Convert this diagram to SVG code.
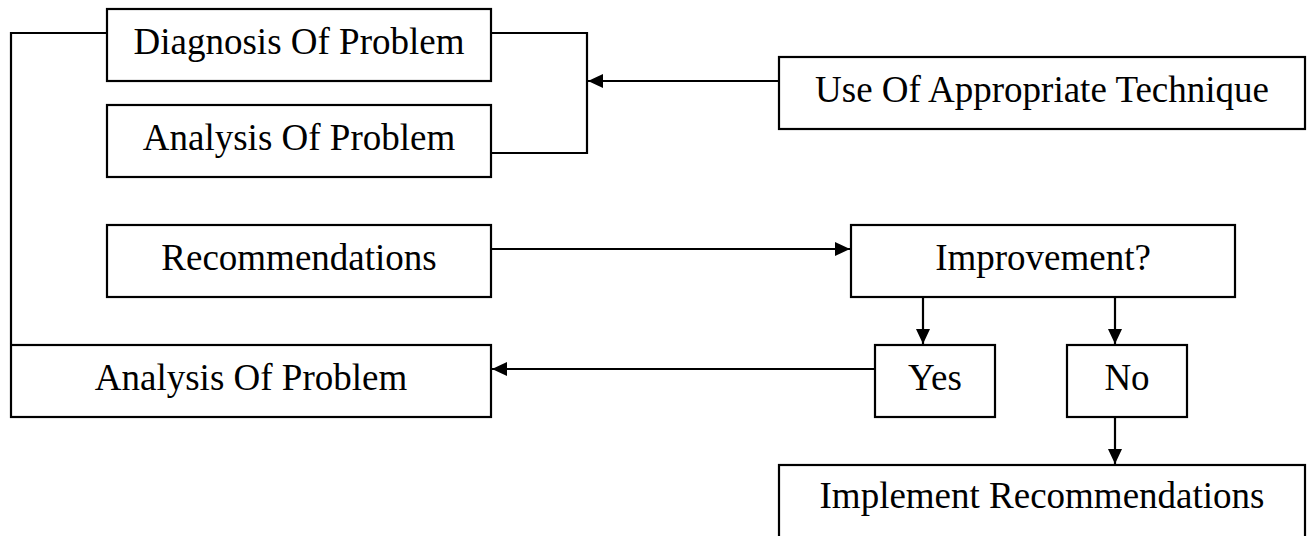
<svg xmlns="http://www.w3.org/2000/svg" width="1308" height="536" viewBox="0 0 1308 536">
<style>
.box{fill:#fff;stroke:#000;stroke-width:2.2}
.t{font-family:"Liberation Serif","Times New Roman",serif;font-size:37px;fill:#000;text-anchor:middle}
.c{fill:none;stroke:#000;stroke-width:2.2}
</style>
<defs>
<marker id="ah" markerUnits="userSpaceOnUse" markerWidth="16" markerHeight="14" refX="15" refY="7" orient="auto">
<path d="M0,0 L15,7 L0,14 z" fill="#000"/>
</marker>
</defs>
<rect width="1308" height="536" fill="#fff"/>
<g id="connectors">
<polyline class="c" points="107,33 11,33 11,344"/>
<polyline class="c" points="491,33 587,33 587,153 491,153"/>
<line class="c" x1="779" y1="81" x2="588" y2="81" marker-end="url(#ah)"/>
<line class="c" x1="491" y1="249" x2="850" y2="249" marker-end="url(#ah)"/>
<line class="c" x1="874" y1="369" x2="492" y2="369" marker-end="url(#ah)"/>
<line class="c" x1="923" y1="297" x2="923" y2="344" marker-end="url(#ah)"/>
<line class="c" x1="1115" y1="297" x2="1115" y2="344" marker-end="url(#ah)"/>
<line class="c" x1="1115" y1="417" x2="1115" y2="464" marker-end="url(#ah)"/>
</g>
<g id="diagnosis"><rect class="box" x="107" y="9" width="384" height="72"/><text class="t" x="299" y="54">Diagnosis Of Problem</text></g>
<g id="analysis1"><rect class="box" x="107" y="105" width="384" height="72"/><text class="t" x="299" y="150">Analysis Of Problem</text></g>
<g id="technique"><rect class="box" x="779" y="57" width="526" height="72"/><text class="t" x="1042" y="102">Use Of Appropriate Technique</text></g>
<g id="recommendations"><rect class="box" x="107" y="225" width="384" height="72"/><text class="t" x="299" y="270">Recommendations</text></g>
<g id="improvement"><rect class="box" x="851" y="225" width="384" height="72"/><text class="t" x="1043" y="270">Improvement?</text></g>
<g id="analysis2"><rect class="box" x="11" y="345" width="480" height="72"/><text class="t" x="251" y="390">Analysis Of Problem</text></g>
<g id="yes"><rect class="box" x="875" y="345" width="120" height="72"/><text class="t" x="935" y="390">Yes</text></g>
<g id="no"><rect class="box" x="1067" y="345" width="120" height="72"/><text class="t" x="1127" y="390">No</text></g>
<g id="implement"><rect class="box" x="779" y="465" width="526" height="74"/><text class="t" x="1042" y="508">Implement Recommendations</text></g>
</svg>
